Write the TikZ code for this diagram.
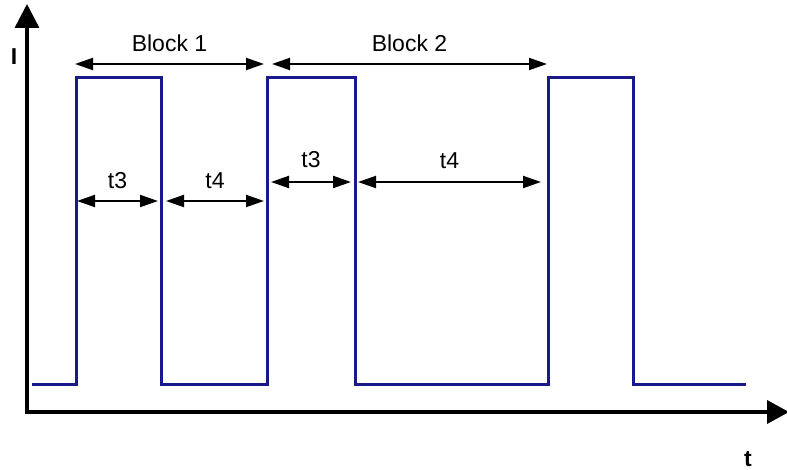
\documentclass[tikz,border=0pt]{standalone}
\usepackage{fontspec}
\setmainfont{Liberation Sans}
\usetikzlibrary{arrows.meta}
\definecolor{pulse}{RGB}{25,25,140}

\begin{document}
\begin{tikzpicture}[x=1pt, y=-1pt,
    dim/.style={{Triangle[length=18pt,width=12pt]}-{Triangle[length=18pt,width=12pt]}, line width=2pt},
    lbl/.style={font=\fontsize{23}{27}\selectfont, inner sep=0pt}]
    \useasboundingbox (0,0) rectangle (787,470);

    % Draw axes
    \coordinate (ytop) at (27,4);
    \coordinate (O) at (27,412);
    \coordinate (xend) at (789,412);
    \draw[line width=3.5pt, {Triangle[length=24pt,width=24pt]}-{Triangle[length=22pt,width=23pt]}] (ytop) -- (O) -- (xend);
    \node[lbl, font=\fontsize{23}{27}\selectfont\bfseries] (ilabel) at (14,57) {I};
    \node[lbl, font=\fontsize{23}{27}\selectfont\bfseries] (tlabel) at (748,459) {t};

    % Pulse edges
    \foreach \n/\x in {r1/76, f1/161, r2/267, f2/355, r3/548, f3/633} {
        \coordinate (\n) at (\x,78);
    }

    % Draw the pulse train
    \draw[pulse, line width=3pt] (32,384) -| (r1) -- (f1) |- (267,384) -- (r2) -- (f2) |- (548,384) -- (r3) -- (f3) |- (746,384);

    % Block arrows
    \coordinate (b1a) at (75,64);
    \coordinate (b1b) at (264,64);
    \coordinate (b2a) at (272,64);
    \coordinate (b2b) at (547,64);
    \draw[dim] (b1a) -- node[lbl, midway, above=11pt] (block1) {Block 1} (b1b);
    \draw[dim] (b2a) -- node[lbl, midway, above=11pt] (block2) {Block 2} (b2b);

    % Pulse and pause arrows
    \coordinate (t3a) at (77,201);
    \coordinate (t3b) at (158,201);
    \coordinate (t4a) at (166,201);
    \coordinate (t4b) at (264,201);
    \coordinate (t3c) at (271,182);
    \coordinate (t3d) at (351,182);
    \coordinate (t4c) at (358,182);
    \coordinate (t4d) at (541,182);
    \draw[dim] (t3a) -- node[lbl, midway, above=11pt] (ta) {t3} (t3b);
    \draw[dim] (t4a) -- node[lbl, midway, above=11pt] (tb) {t4} (t4b);
    \draw[dim] (t3c) -- node[lbl, midway, above=13pt] (tc) {t3} (t3d);
    \draw[dim] (t4c) -- node[lbl, midway, above=12pt] (td) {t4} (t4d);

\end{tikzpicture}
\end{document}
